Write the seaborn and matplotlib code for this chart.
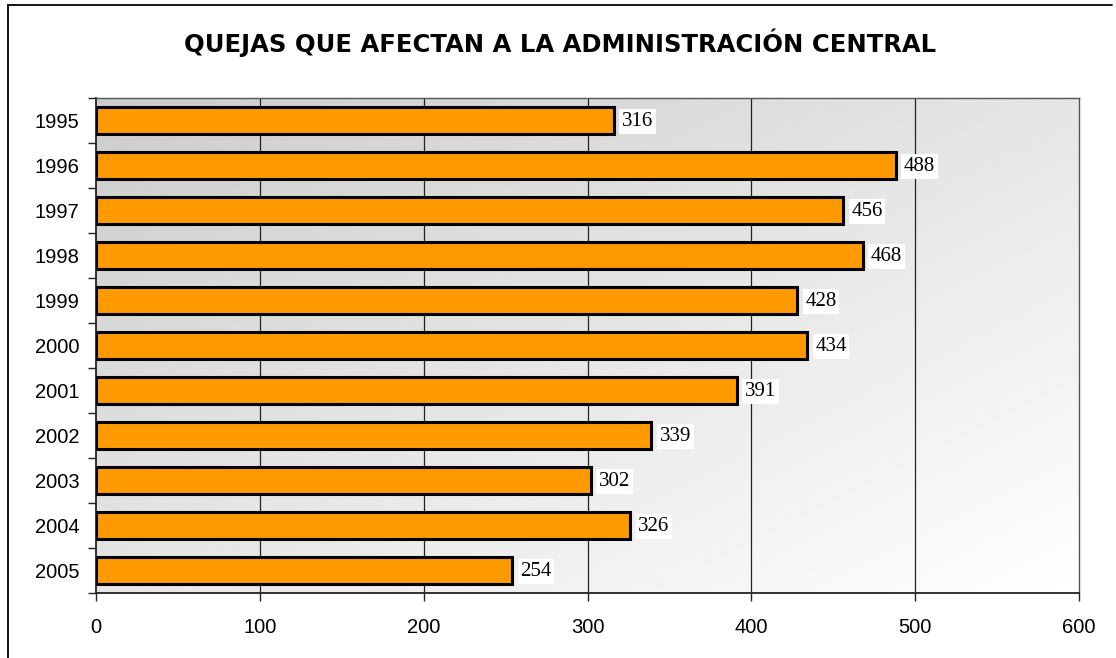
"""Horizontal bar chart of complaints affecting the central administration."""

import numpy as np
import pandas as pd
import seaborn as sns
import matplotlib.pyplot as plt
from matplotlib.lines import Line2D

YEARS = ['1995', '1996', '1997', '1998', '1999', '2000',
         '2001', '2002', '2003', '2004', '2005']
QUEJAS = [316, 488, 456, 468, 428, 434, 391, 339, 302, 326, 254]
TITLE = 'QUEJAS QUE AFECTAN A LA ADMINISTRACIÓN CENTRAL'

df = pd.DataFrame({'year': YEARS, 'quejas': QUEJAS})

sns.set_theme(style='white')
plt.rcParams['font.family'] = ['Liberation Sans', 'DejaVu Sans']
plt.rcParams['text.color'] = 'black'
plt.rcParams['xtick.labelcolor'] = 'black'
plt.rcParams['ytick.labelcolor'] = 'black'

fig = plt.figure(figsize=(11.16, 6.58), dpi=100)
ax = fig.add_axes([96 / 1116, 1 - 593 / 658, (1079 - 96) / 1116, (593 - 98) / 658])

# diagonal grey-to-white gradient in the plot area (light grey top-left, white bottom-right)
yy, xx = np.mgrid[0:1:200j, 0:1:200j]
grad = 0.80 + 0.20 * (0.5 * xx + 0.5 * yy)
ax.imshow(grad, extent=(0, 1, 0, 1), transform=ax.transAxes, cmap='gray',
          vmin=0, vmax=1, aspect='auto', zorder=0, origin='upper',
          interpolation='bilinear')

sns.barplot(data=df, x='quejas', y='year', order=YEARS, color='#ff9900',
            saturation=1, width=0.58, edgecolor='black', linewidth=2.2,
            orient='h', ax=ax, zorder=3)

ax.set_xlim(0, 600)
ax.set_ylim(len(YEARS) - 0.5, -0.5)
ax.set_xticks(range(0, 601, 100))
ax.set_xticklabels([str(v) for v in range(0, 601, 100)])
ax.set_xlabel('')
ax.set_ylabel('')

for x in range(100, 600, 100):
    ax.axvline(x, color='#222222', linewidth=0.9, zorder=1)

# y ticks between categories
ax.set_yticks(np.arange(len(YEARS)))
ax.set_yticklabels(YEARS)
ax.set_yticks(np.arange(-0.5, len(YEARS), 1), minor=True)
ax.tick_params(axis='y', which='major', length=0, labelsize=14.5, pad=12)
ax.tick_params(axis='y', which='minor', length=6, width=1, color='#222222',
               direction='out', left=True)
ax.tick_params(axis='x', length=6, width=1, color='#222222', direction='out',
               labelsize=14.5, pad=12, bottom=True)

for side in ['left', 'bottom']:
    ax.spines[side].set_color('#222222')
    ax.spines[side].set_linewidth(1.3)
for side in ['top', 'right']:
    ax.spines[side].set_color('#555555')
    ax.spines[side].set_linewidth(1.0)

for i, v in enumerate(QUEJAS):
    ax.text(v + 5, i + 0.02, str(v), va='center', ha='left', fontsize=15,
            family='Liberation Serif', zorder=5,
            bbox=dict(facecolor='white', edgecolor='none', pad=2.0))

fig.text(0.502, 1 - 43 / 658, TITLE, ha='center', va='center', fontsize=17.5,
         fontweight='bold', family='DejaVu Sans')

# outer chart border (top and left visible)
fig.add_artist(Line2D([8 / 1116, 1112 / 1116], [1 - 5 / 658, 1 - 5 / 658],
                      transform=fig.transFigure, color='black', linewidth=1.3))
fig.add_artist(Line2D([8 / 1116, 8 / 1116], [0, 1 - 5 / 658],
                      transform=fig.transFigure, color='black', linewidth=1.3))

fig.savefig('out.png', dpi=100)
